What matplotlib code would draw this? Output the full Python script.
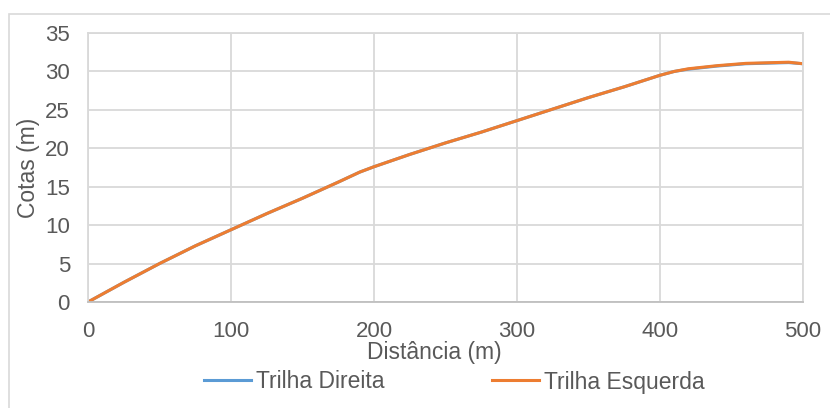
import matplotlib
matplotlib.use("Agg")
import matplotlib.pyplot as plt
from matplotlib.patches import Rectangle

plt.rcParams['font.family'] = ['Liberation Sans', 'DejaVu Sans']

# Distância ao longo das trilhas (m) e cotas (m)
distancia = [0, 25, 50, 75, 100, 125, 150, 175, 190, 200, 225, 250, 275, 300,
             325, 350, 375, 400, 410, 420, 440, 460, 480, 490, 500]
cota_direita = [0, 2.55, 5.0, 7.3, 9.4, 11.5, 13.5, 15.6, 16.9, 17.6, 19.2, 20.7,
                22.1, 23.6, 25.1, 26.6, 28.0, 29.5, 30.0, 30.3, 30.7, 31.0, 31.1,
                31.15, 31.0]
cota_esquerda = [0, 2.55, 5.0, 7.3, 9.4, 11.5, 13.5, 15.6, 16.9, 17.6, 19.2, 20.7,
                 22.1, 23.6, 25.1, 26.6, 28.0, 29.5, 30.0, 30.35, 30.75, 31.05, 31.15,
                 31.2, 31.0]
series_names = ["Trilha Direita", "Trilha Esquerda"]

W, H = 830, 408
FS_TICK = 16
FS_TEXT = 16.5
fig = plt.figure(figsize=(W / 100, H / 100), dpi=100)
fig.patch.set_facecolor("white")

# chart frame
fig.patches.append(Rectangle((9 / W, -0.1), 1.2, 1 - 14 / H + 0.1,
                             transform=fig.transFigure, fill=False,
                             edgecolor="#D9D9D9", linewidth=1.2))

ax = fig.add_axes([88 / W, (H - 302) / H, (803 - 88) / W, (302 - 33) / H])

text_color = "#595959"
grid_color = "#D9D9D9"

l1, = ax.plot(distancia, cota_direita, color="#5B9BD5", linewidth=2.2,
              label=series_names[0])
l2, = ax.plot(distancia, cota_esquerda, color="#ED7D31", linewidth=2.2,
              label=series_names[1])

ax.set_xlim(0, 500)
ax.set_ylim(0, 35)
ax.set_xticks(range(0, 501, 100))
ax.set_yticks(range(0, 36, 5))
ax.grid(True, color=grid_color, linewidth=1.3)
ax.set_axisbelow(True)

for side in ["top", "right", "left"]:
    ax.spines[side].set_color(grid_color)
    ax.spines[side].set_linewidth(1.3)
ax.spines["bottom"].set_color("#BFBFBF")
ax.spines["bottom"].set_linewidth(1.3)

ax.tick_params(axis="both", length=0, labelsize=FS_TICK, colors=text_color)
ax.tick_params(axis="y", pad=13)
ax.tick_params(axis="x", pad=14)

ax.set_xlabel("Distância (m)", fontsize=FS_TEXT, color=text_color, va="center")
ax.set_ylabel("Cotas (m)", fontsize=FS_TEXT, color=text_color, va="center")
ax.xaxis.set_label_coords((434 - 88) / 715, -(353 - 302) / 269)
ax.yaxis.set_label_coords((29 - 88) / 715, (302 - 168) / 269)

fig.legend(handles=[l1, l2], loc="center", bbox_to_anchor=(454 / W, 1 - 382 / H),
           ncol=2, frameon=False, fontsize=FS_TEXT, handlelength=2.05,
           handletextpad=0.22, columnspacing=4.7, labelcolor=text_color)

fig.savefig("out.png", dpi=100)
